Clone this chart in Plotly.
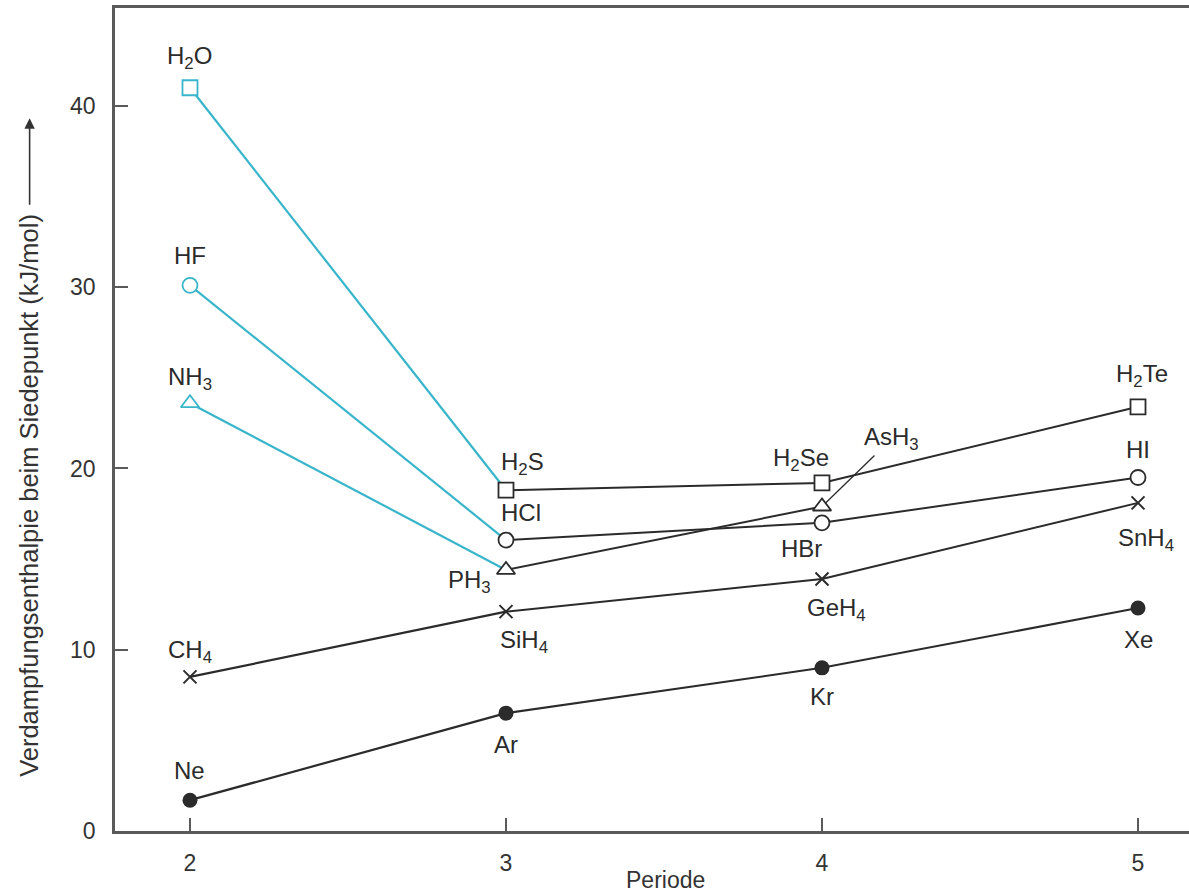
import plotly.graph_objects as go

# Periods on the x axis
periods = [2, 3, 4, 5]

# Enthalpy of vaporisation at the boiling point (kJ/mol)
noble_gases = [1.7, 6.5, 9.0, 12.3]
noble_names = ["Ne", "Ar", "Kr", "Xe"]

group14 = [8.5, 12.1, 13.9, 18.1]
group14_names = ["CH<sub>4</sub>", "SiH<sub>4</sub>", "GeH<sub>4</sub>", "SnH<sub>4</sub>"]

group15 = [23.6, 14.4, 17.9]
group15_names = ["NH<sub>3</sub>", "PH<sub>3</sub>", "AsH<sub>3</sub>"]

group16 = [41.0, 18.8, 19.2, 23.4]
group16_names = ["H<sub>2</sub>O", "H<sub>2</sub>S", "H<sub>2</sub>Se", "H<sub>2</sub>Te"]

group17 = [30.1, 16.05, 17.0, 19.5]
group17_names = ["HF", "HCl", "HBr", "HI"]

x_ticks = [2, 3, 4, 5]
y_ticks = [0, 10, 20, 30, 40]

BLACK = "#2b2b2b"
CYAN = "#38b5ca"
AXIS = "#5a5a5a"
LABEL_FONT = dict(family="Liberation Sans, Arial, sans-serif", size=24, color="#2b2b2b")
TICK_FONT = dict(family="Liberation Sans, Arial, sans-serif", size=23, color="#333333")

# (values, names, marker symbol, fill, marker size, hydrogen-bonded first member)
series = [
    (noble_gases, noble_names, "circle", BLACK, 15, False),
    (group14, group14_names, "x-thin", BLACK, 13, False),
    (group15, group15_names, "triangle-up", "white", 16, True),
    (group16, group16_names, "square", "white", 15, True),
    (group17, group17_names, "circle", "white", 15, True),
]

fig = go.Figure()

# Connecting lines first, so every marker sits on top of them
for vals, names, sym, fill, size, hbond in series:
    xs = periods[:len(vals)]
    fig.add_trace(go.Scatter(
        x=xs[:2], y=vals[:2], mode="lines",
        line=dict(color=CYAN if hbond else BLACK, width=2.2),
        hoverinfo="skip", showlegend=False))
    fig.add_trace(go.Scatter(
        x=xs[1:], y=vals[1:], mode="lines",
        line=dict(color=BLACK, width=2),
        hoverinfo="skip", showlegend=False))

for vals, names, sym, fill, size, hbond in series:
    xs = periods[:len(vals)]
    edge = [CYAN if (hbond and i == 0) else BLACK for i in range(len(vals))]
    if sym == "x-thin":
        marker = dict(symbol=sym, size=size, line=dict(color=edge, width=2))
    elif fill == BLACK:
        marker = dict(symbol=sym, size=size, color=BLACK, line=dict(color=BLACK, width=0))
    else:
        marker = dict(symbol=sym, size=size, color=fill, line=dict(color=edge, width=1.8))
    fig.add_trace(go.Scatter(
        x=xs, y=vals, mode="markers", marker=marker,
        text=names, hoverinfo="text", showlegend=False))

# Label offsets in pixels: (xanchor, xshift, yshift)
label_pos = {
    "Ne": ("center", 0, 30), "Ar": ("center", 0, -31), "Kr": ("center", 0, -29), "Xe": ("center", 0, -31),
    "CH<sub>4</sub>": ("center", 0, 25), "SiH<sub>4</sub>": ("left", -8, -30),
    "GeH<sub>4</sub>": ("center", 15, -30), "SnH<sub>4</sub>": ("center", 8, -37),
    "NH<sub>3</sub>": ("center", 0, 25), "PH<sub>3</sub>": ("right", -13, -12),
    "H<sub>2</sub>O": ("center", 0, 30), "H<sub>2</sub>S": ("left", -7, 27),
    "H<sub>2</sub>Se": ("right", 9, 23), "H<sub>2</sub>Te": ("center", 4, 31),
    "HF": ("center", 0, 30), "HCl": ("left", -7, 28), "HBr": ("right", 2, -26), "HI": ("center", 0, 28),
}

annotations = []
for vals, names, sym, fill, size, hbond in series:
    for p, v, n in zip(periods, vals, names):
        if n == "AsH<sub>3</sub>":
            # label set off to the upper right with a thin leader line
            annotations.append(dict(
                x=p, y=v, xref="x", yref="y", text=n, font=LABEL_FONT,
                showarrow=True, arrowhead=0, arrowwidth=1.3, arrowcolor=BLACK,
                ax=70, ay=-68, standoff=5))
            continue
        xa, xs_, ys_ = label_pos[n]
        annotations.append(dict(
            x=p, y=v, xref="x", yref="y", text=n, font=LABEL_FONT,
            showarrow=False, xanchor=xa, yanchor="middle", xshift=xs_, yshift=ys_))

# Axis titles
annotations.append(dict(
    x=0.513, y=-0.059, xref="paper", yref="paper", text="Periode",
    showarrow=False, font=dict(family="Liberation Sans, Arial, sans-serif", size=23, color="#333333"),
    xanchor="center", yanchor="middle"))
annotations.append(dict(
    x=-0.0795, y=0.408, xref="paper", yref="paper",
    text="Verdampfungsenthalpie beim Siedepunkt (kJ/mol)",
    textangle=-90, showarrow=False,
    font=dict(family="Liberation Sans, Arial, sans-serif", size=25.5, color="#333333"),
    xanchor="center", yanchor="middle"))
annotations.append(dict(
    x=-0.0795, y=0.866, xref="paper", yref="paper", text="",
    showarrow=True, arrowhead=2, arrowsize=1.3, arrowwidth=1.6, arrowcolor="#333333",
    ax=0, ay=88))

fig.update_layout(
    width=1189, height=895,
    margin=dict(l=115, r=0, t=8, b=64),
    paper_bgcolor="white", plot_bgcolor="white",
    annotations=annotations,
    xaxis=dict(
        range=[1.7627, 5.1614], tickvals=x_ticks, ticktext=[str(t) for t in x_ticks],
        showgrid=False, zeroline=False, showline=True, mirror=True,
        linecolor=AXIS, linewidth=2.5, ticks="inside", ticklen=13, tickwidth=2,
        tickcolor=AXIS, ticklabelstandoff=10, tickfont=TICK_FONT),
    yaxis=dict(
        range=[0, 45.4], tickvals=y_ticks, ticktext=[str(t) for t in y_ticks],
        showgrid=False, zeroline=False, showline=True, mirror=False,
        linecolor=AXIS, linewidth=2.5, ticks="inside", ticklen=13, tickwidth=2,
        tickcolor=AXIS, ticklabelstandoff=12, tickfont=TICK_FONT),
)

fig.write_html("out.html")
